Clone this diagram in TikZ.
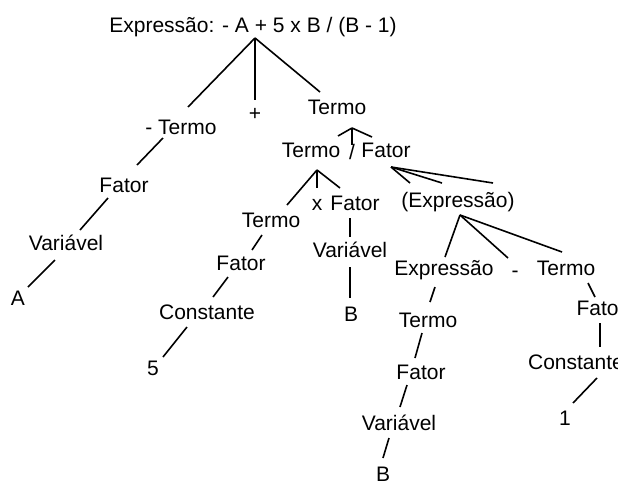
\documentclass[tikz,border=0pt]{standalone}
\usepackage{fontspec}
\setmainfont{Liberation Sans}
\begin{document}
\begin{tikzpicture}[x=1pt,y=-1pt,
  lbl/.style={font=\fontsize{21}{21}\selectfont, inner sep=0pt, text height=15pt, text depth=0pt},
  edge/.style={line width=1.6pt, black}]
\useasboundingbox[fill=white] (0,0) rectangle (618,482);
% nodes
\node[lbl] (root) at (253,25) {Expressão: - A + 5 x B / (B - 1)};
\node[lbl] (mterm) at (181,127) {- Termo};
\node[lbl] (plus) at (255,113) {+};
\node[lbl] (term) at (337,107) {Termo};
\node[lbl] (fat1) at (124,185) {Fator};
\node[lbl] (var1) at (66,243) {Variável};
\node[lbl] (a) at (18,298) {A};
\node[lbl] (term2) at (311,150) {Termo};
\node[lbl] (div) at (352,152) {/};
\node[lbl] (fat2) at (386,150) {Fator};
\node[lbl] (term3) at (271,220) {Termo};
\node[lbl] (times) at (317,203) {x};
\node[lbl] (fat3) at (355,203) {Fator};
\node[lbl] (fat4) at (241,263) {Fator};
\node[lbl] (const1) at (207,312) {Constante};
\node[lbl] (five) at (153,368) {5};
\node[lbl] (var2) at (350,250) {Variável};
\node[lbl] (b1) at (351,314) {B};
\node[lbl] (pexp) at (458,200) {(Expressão)};
\node[lbl] (exp) at (444,268) {Expressão};
\node[lbl] (minus) at (515,270) {-};
\node[lbl] (term4) at (566,268) {Termo};
\node[lbl] (term5) at (428,320) {Termo};
\node[lbl] (fat5) at (421,372) {Fator};
\node[lbl] (var3) at (399,423) {Variável};
\node[lbl] (b2) at (383,474) {B};
\node[lbl] (fat6) at (601,308) {Fator};
\node[lbl] (const2) at (576,362) {Constante};
\node[lbl] (one) at (565,418) {1};
% connector end points
\coordinate (ra) at (255,38);
\coordinate (ta) at (352,128);
\coordinate (t2a) at (317,170);
\coordinate (f2a) at (391,167);
\coordinate (pa) at (460,215);
% connectors
\draw[edge] (ra) -- (188,107) coordinate (mterm-in);
\draw[edge] (ra) -- (255,100) coordinate (plus-in);
\draw[edge] (ra) -- (320,92) coordinate (term-in);
\draw[edge] (163,138) coordinate (mterm-out) -- (137,165) coordinate (fat1-in);
\draw[edge] (108,198) coordinate (fat1-out) -- (80,230) coordinate (var1-in);
\draw[edge] (55,260) coordinate (var1-out) -- (28,287) coordinate (a-in);
\draw[edge] (ta) -- (338,136) coordinate (term2-in);
\draw[edge] (ta) -- (352,145) coordinate (div-in);
\draw[edge] (ta) -- (372,137) coordinate (fat2-in);
\draw[edge] (t2a) -- (287,205) coordinate (term3-in);
\draw[edge] (t2a) -- (317,188) coordinate (times-in);
\draw[edge] (t2a) -- (340,188) coordinate (fat3-in);
\draw[edge] (262,235) coordinate (term3-out) -- (252,250) coordinate (fat4-in);
\draw[edge] (228,277) coordinate (fat4-out) -- (213,297) coordinate (const1-in);
\draw[edge] (187,327) coordinate (const1-out) -- (163,357) coordinate (five-in);
\draw[edge] (350,218) coordinate (fat3-out) -- (350,237) coordinate (var2-in);
\draw[edge] (350,267) coordinate (var2-out) -- (350,298) coordinate (b1-in);
\draw[edge] (f2a) -- (410,183) coordinate (pexp-in1);
\draw[edge] (f2a) -- (442,183) coordinate (pexp-in2);
\draw[edge] (f2a) -- (493,183) coordinate (pexp-in3);
\draw[edge] (pa) -- (445,257) coordinate (exp-in);
\draw[edge] (pa) -- (508,258) coordinate (minus-in);
\draw[edge] (pa) -- (562,252) coordinate (term4-in);
\draw[edge] (435,287) coordinate (exp-out) -- (430,302) coordinate (term5-in);
\draw[edge] (422,333) coordinate (term5-out) -- (415,358) coordinate (fat5-in);
\draw[edge] (407,385) coordinate (fat5-out) -- (400,407) coordinate (var3-in);
\draw[edge] (389,438) coordinate (var3-out) -- (383,458) coordinate (b2-in);
\draw[edge] (588,283) coordinate (term4-out) -- (595,297) coordinate (fat6-in);
\draw[edge] (600,323) coordinate (fat6-out) -- (600,347) coordinate (const2-in);
\draw[edge] (597,378) coordinate (const2-out) -- (573,403) coordinate (one-in);
\end{tikzpicture}
\end{document}
